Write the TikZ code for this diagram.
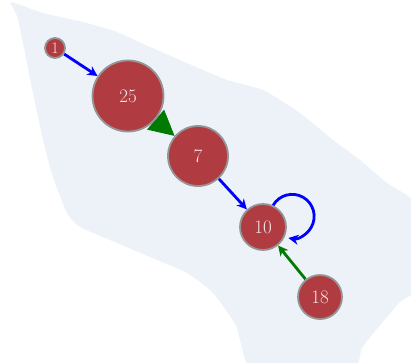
\documentclass[tikz,border=0pt]{standalone}
\usetikzlibrary{arrows.meta}
\definecolor{blobfill}{HTML}{EDF2F9}
\definecolor{nodefill}{HTML}{B03C42}
\definecolor{nodeline}{HTML}{959595}
\definecolor{labelcol}{HTML}{F4E6E6}
\definecolor{edgeblue}{HTML}{0000FF}
\definecolor{edgegreen}{HTML}{007A00}
\pgfdeclarelayer{back}
\pgfdeclarelayer{links}
\pgfsetlayers{back,links,main}
\tikzset{
  vertex/.style={circle, fill=nodefill, draw=nodeline, line width=1.8pt,
    inner sep=0pt, text=labelcol, font=\fontsize{19}{19}\selectfont},
  bluelink/.style={draw=edgeblue, line width=2.8pt,
    -{Stealth[length=10pt,width=10pt,inset=3pt]}},
  greenlink/.style={draw=edgegreen, line width=2.8pt,
    -{Stealth[length=10pt,width=10pt,inset=3pt]}},
  wedgelink/.style={draw=edgegreen, line width=1pt,
    -{Triangle[length=25pt,width=26pt]}, fill=edgegreen},
}
\begin{document}
\begin{tikzpicture}[x=1pt,y=-1pt]
\useasboundingbox (0,0) rectangle (411,362);
% light backdrop region, cut off at the frame
\begin{pgfonlayer}{back}
\begin{scope}
\clip (0,0) rectangle (411,362);
\fill[blobfill] plot[smooth cycle, tension=0.35] coordinates {
  (11,2) (43,13) (83,22) (117,32) (150,47) (187,63)
  (227,80) (263,90) (300,113) (333,140) (360,160) (387,183)
  (420,208) (420,285) (400,302) (376,330) (362,348) (350,372)
  (255,375) (236,326) (213,293) (187,273) (150,257) (110,240)
  (80,227) (67,213) (53,177) (43,140) (33,93) (23,43) (17,16)};
\end{scope}
\end{pgfonlayer}
% vertices
\node[vertex, minimum size=20pt, font=\fontsize{16}{16}\selectfont] (n1) at (55,48) {1};
\node[vertex, minimum size=71pt] (n25) at (128,96) {25};
\node[vertex, minimum size=60pt] (n7) at (198,156) {7};
\node[vertex, minimum size=46pt] (n10) at (263,227) {10};
\node[vertex, minimum size=44pt] (n18) at (320,297) {18};
% links
\begin{pgfonlayer}{links}
\draw[bluelink] (n1) -- (n25);
\draw[wedgelink] (n25) -- (n7);
\draw[bluelink] (n7) -- (n10);
\draw[bluelink] (n10.65) arc[start angle=150, end angle=-100, radius=22pt];
\draw[greenlink] (n18) -- (n10);
\end{pgfonlayer}
\end{tikzpicture}
\end{document}
